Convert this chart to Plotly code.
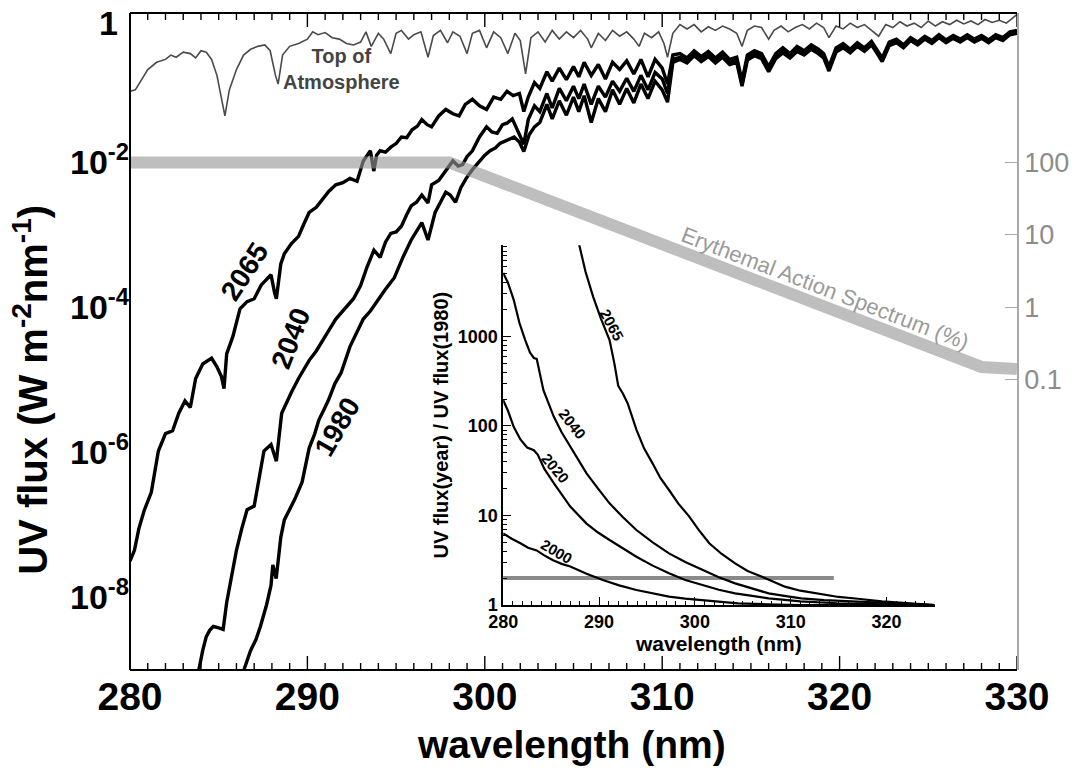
import numpy as np
import plotly.graph_objects as go

FONT = "Liberation Sans, Arial, Helvetica, sans-serif"

# ---------------- main panel data ----------------
# wavelengths (nm) and log10 of UV flux (W m-2 nm-1)
toa_wl = [280.0, 280.3, 280.5, 280.8, 281.0, 281.5, 282.0, 282.3, 282.6, 283.0, 283.4, 283.7, 284.0, 284.3,
          284.6, 284.9, 285.2, 285.35, 285.6, 286.0, 286.4, 286.8, 287.2, 287.6, 287.9, 288.2, 288.35, 288.6,
          289.0, 289.5, 290.0, 290.3, 290.6, 291.0, 291.4, 291.8, 292.2, 292.6, 293.0, 293.3, 293.6, 294.0,
          294.3, 294.7, 295.0, 295.3, 295.7, 296.0, 296.4, 296.8, 297.1, 297.5, 297.9, 298.2, 298.6, 299.0,
          299.3, 299.7, 300.1, 300.5, 300.9, 301.3, 301.7, 302.0, 302.3, 302.6, 303.0, 303.4, 303.8, 304.2,
          304.6, 305.0, 305.4, 305.8, 306.0, 306.4, 306.8, 307.2, 307.6, 308.0, 308.4, 308.7, 309.0, 309.4,
          309.8, 310.1, 310.3, 310.6, 311.0, 311.4, 311.8, 312.2, 312.6, 313.0, 313.4, 313.8, 314.2, 314.5,
          314.8, 315.2, 315.6, 316.0, 316.3, 316.7, 317.1, 317.5, 317.9, 318.3, 318.7, 319.1, 319.4, 319.8,
          320.2, 320.6, 321.0, 321.4, 321.8, 322.2, 322.6, 323.0, 323.4, 323.8, 324.2, 324.6, 325.0, 325.4,
          325.8, 326.2, 326.6, 327.0, 327.4, 327.8, 328.2, 328.6, 329.0, 329.4, 329.7, 330.0]
toa_log = [-1.02, -1.00, -0.92, -0.80, -0.72, -0.62, -0.58, -0.52, -0.55, -0.48, -0.50, -0.56, -0.46, -0.48,
           -0.58, -0.80, -1.20, -1.36, -1.00, -0.72, -0.52, -0.44, -0.40, -0.38, -0.46, -0.80, -0.92, -0.52,
           -0.40, -0.36, -0.30, -0.20, -0.24, -0.21, -0.28, -0.30, -0.36, -0.38, -0.34, -0.20, -0.40, -0.22,
           -0.30, -0.50, -0.22, -0.18, -0.30, -0.24, -0.20, -0.55, -0.25, -0.18, -0.35, -0.20, -0.26, -0.50,
           -0.22, -0.18, -0.42, -0.20, -0.28, -0.50, -0.22, -0.32, -0.78, -0.28, -0.20, -0.34, -0.18, -0.30,
           -0.20, -0.28, -0.18, -0.30, -0.42, -0.22, -0.32, -0.18, -0.26, -0.20, -0.30, -0.40, -0.22, -0.28,
           -0.20, -0.36, -0.55, -0.22, -0.10, -0.16, -0.10, -0.20, -0.13, -0.18, -0.12, -0.16, -0.22, -0.40,
           -0.18, -0.12, -0.14, -0.30, -0.18, -0.12, -0.20, -0.14, -0.10, -0.16, -0.08, -0.14, -0.28, -0.12,
           -0.16, -0.08, -0.14, -0.10, -0.18, -0.26, -0.10, -0.14, -0.06, -0.12, -0.08, -0.14, -0.05, -0.12,
           -0.06, -0.10, -0.04, -0.09, -0.05, -0.10, -0.03, -0.07, -0.04, -0.08, -0.02, 0.04]

merged_wl = [311.0, 311.4, 311.8, 312.2, 312.6, 313.0, 313.4, 313.8, 314.2, 314.5, 314.8, 315.2, 315.6, 316.0,
             316.4, 316.8, 317.2, 317.6, 318.0, 318.4, 318.8, 319.1, 319.4, 319.8, 320.2, 320.6, 321.0, 321.4,
             321.8, 322.2, 322.4, 322.8, 323.2, 323.6, 324.0, 324.4, 324.8, 325.2, 325.6, 326.0, 326.4, 326.8,
             327.2, 327.6, 328.0, 328.4, 328.8, 329.2, 329.6, 330.0]

y2065_wl = [280.0, 280.25, 280.5, 280.8, 281.2, 281.6, 282.0, 282.4, 282.75, 283.1, 283.4, 283.7, 284.1, 284.4,
            284.6, 284.9, 285.15, 285.3, 285.45, 285.8, 286.2, 286.6, 287.0, 287.4, 287.7, 287.95, 288.15, 288.25,
            288.5, 288.7, 289.1, 289.5, 289.8, 290.1, 290.5, 290.85, 291.2, 291.6, 292.0, 292.4, 292.8, 293.15,
            293.55, 293.74, 293.9, 294.1, 294.4, 294.7, 295.0, 295.3, 295.6, 295.9, 296.2, 296.45, 296.75, 297.0,
            297.4, 297.8, 298.2, 298.55, 298.9, 299.3, 299.7, 300.1, 300.5, 300.9, 301.25, 301.6, 301.95, 302.2,
            302.45, 302.8, 303.1, 303.5, 303.8, 304.2, 304.6, 305.0, 305.3, 305.6, 306.0, 306.4, 306.8, 307.2,
            307.6, 308.0, 308.4, 308.8, 309.2, 309.6, 310.0, 310.3, 310.6] + merged_wl
y2065_log = [-7.50, -7.35, -7.05, -6.80, -6.55, -5.98, -5.74, -5.70, -5.46, -5.29, -5.38, -4.98, -4.78, -4.73,
             -4.70, -4.82, -4.95, -5.12, -4.64, -4.40, -4.02, -3.92, -3.88, -3.69, -3.62, -3.55, -3.80, -3.88,
             -3.40, -3.26, -3.12, -3.02, -2.85, -2.69, -2.62, -2.50, -2.40, -2.31, -2.28, -2.22, -2.26, -1.98,
             -1.84, -2.12, -1.90, -1.84, -1.86, -1.79, -1.74, -1.65, -1.66, -1.55, -1.50, -1.41, -1.48, -1.51,
             -1.36, -1.27, -1.33, -1.36, -1.20, -1.13, -1.22, -1.27, -1.10, -1.13, -1.02, -1.08, -1.05, -1.30,
             -1.10, -0.90, -0.98, -0.75, -0.88, -0.70, -0.86, -0.68, -0.82, -0.62, -0.80, -0.65, -0.85, -0.62,
             -0.72, -0.60, -0.78, -0.58, -0.82, -0.58, -0.70, -0.92, -0.52,
             -0.50, -0.56, -0.46, -0.54, -0.47, -0.56, -0.48, -0.58, -0.55, -0.88, -0.52, -0.46, -0.50, -0.68,
             -0.50, -0.42, -0.50, -0.40, -0.46, -0.38, -0.44, -0.50, -0.68, -0.42, -0.36, -0.44, -0.35, -0.42,
             -0.33, -0.48, -0.56, -0.34, -0.30, -0.38, -0.28, -0.34, -0.26, -0.32, -0.24, -0.31, -0.25, -0.30,
             -0.24, -0.30, -0.25, -0.31, -0.24, -0.28, -0.20, -0.18]

y2040_wl = [283.6, 283.8, 284.1, 284.3, 284.5, 284.7, 285.0, 285.25, 285.45, 285.7, 286.0, 286.3, 286.6, 287.0,
            287.3, 287.55, 287.95, 288.15, 288.25, 288.55, 288.8, 289.1, 289.5, 289.8, 290.1, 290.5, 290.85, 291.2,
            291.6, 292.1, 292.6, 293.0, 293.35, 293.75, 294.1, 294.4, 294.7, 295.0, 295.3, 295.6, 295.85, 296.15,
            296.45, 296.8, 297.0, 297.4, 297.8, 298.2, 298.5, 298.75, 299.0, 299.3, 299.7, 300.1, 300.4, 300.7,
            301.0, 301.25, 301.55, 301.85, 302.2, 302.45, 302.8, 303.1, 303.5, 303.8, 304.2, 304.6, 305.0, 305.3,
            305.6, 306.0, 306.4, 306.8, 307.2, 307.6, 308.0, 308.4, 308.8, 309.2, 309.6, 310.0, 310.3,
            310.6] + merged_wl
y2040_log = [-9.40, -9.10, -8.73, -8.54, -8.45, -8.40, -8.42, -8.44, -8.07, -7.75, -7.35, -7.05, -6.79, -6.74,
             -6.35, -5.98, -5.89, -6.05, -6.12, -5.46, -5.32, -5.17, -4.98, -4.85, -4.73, -4.60, -4.45, -4.32,
             -4.16, -4.02, -3.88, -3.70, -3.45, -3.21, -3.31, -3.10, -2.98, -2.96, -2.88, -2.72, -2.60, -2.55,
             -2.45, -2.56, -2.31, -2.25, -2.12, -1.98, -2.05, -2.03, -1.92, -1.84, -1.65, -1.51, -1.58, -1.60,
             -1.48, -1.46, -1.40, -1.55, -1.75, -1.41, -1.22, -1.30, -1.05, -1.25, -0.98, -1.15, -0.95, -1.12,
             -0.92, -1.20, -0.95, -1.10, -0.88, -1.02, -0.84, -1.02, -0.80, -1.00, -0.76, -0.85, -1.05, -0.58,
             -0.55, -0.60, -0.50, -0.58, -0.51, -0.60, -0.52, -0.62, -0.59, -0.92, -0.56, -0.50, -0.54, -0.72,
             -0.54, -0.46, -0.53, -0.44, -0.49, -0.41, -0.47, -0.53, -0.71, -0.45, -0.39, -0.47, -0.38, -0.45,
             -0.36, -0.51, -0.59, -0.37, -0.33, -0.40, -0.30, -0.36, -0.28, -0.34, -0.26, -0.33, -0.27, -0.32,
             -0.26, -0.32, -0.27, -0.33, -0.26, -0.30, -0.22, -0.20]

y1980_wl = [286.2, 286.45, 286.8, 287.1, 287.35, 287.7, 287.95, 288.05, 288.24, 288.5, 288.7, 289.0, 289.3, 289.7,
            290.1, 290.4, 290.65, 290.95, 291.2, 291.55, 291.9, 292.4, 292.8, 293.15, 293.55, 293.9, 294.4, 294.9,
            295.4, 295.85, 296.15, 296.45, 296.8, 297.2, 297.5, 297.8, 298.05, 298.35, 298.65, 298.95, 299.3,
            299.7, 300.0, 300.3, 300.6, 300.85, 301.2, 301.65, 301.95, 302.2, 302.5, 302.8, 303.1, 303.5, 303.8,
            304.2, 304.6, 305.0, 305.3, 305.6, 306.0, 306.4, 306.8, 307.2, 307.6, 308.0, 308.4, 308.8, 309.2,
            309.6, 310.0, 310.3, 310.6] + merged_wl
y1980_log = [-9.30, -8.98, -8.73, -8.58, -8.40, -8.10, -7.83, -7.55, -7.74, -7.17, -6.93, -6.78, -6.64, -6.41,
             -5.94, -5.75, -5.55, -5.40, -5.27, -5.05, -4.90, -4.54, -4.34, -4.16, -4.05, -3.92, -3.75, -3.59,
             -3.30, -3.07, -2.95, -2.83, -3.07, -2.69, -2.55, -2.41, -2.45, -2.55, -2.35, -2.22, -2.10,
             -1.98, -1.90, -1.84, -1.80, -1.74, -1.70, -1.65, -1.72, -1.85, -1.62, -1.51, -1.45, -1.20, -1.40,
             -1.15, -1.35, -1.10, -1.30, -1.08, -1.45, -1.12, -1.30, -1.00, -1.20, -0.98, -1.18, -0.92, -1.12,
             -0.88, -1.00, -1.17, -0.62,
             -0.58, -0.63, -0.53, -0.61, -0.54, -0.63, -0.55, -0.65, -0.62, -0.95, -0.59, -0.53, -0.57, -0.75,
             -0.57, -0.49, -0.56, -0.47, -0.52, -0.44, -0.50, -0.56, -0.74, -0.48, -0.42, -0.49, -0.40, -0.47,
             -0.38, -0.53, -0.61, -0.39, -0.35, -0.42, -0.32, -0.38, -0.30, -0.36, -0.28, -0.35, -0.29, -0.34,
             -0.28, -0.34, -0.29, -0.35, -0.28, -0.32, -0.24, -0.22]

# erythemal action spectrum (%), right axis
ery_wl = [280.0, 298.0, 328.0, 330.0]
ery_pct = [100.0, 100.0, 0.151, 0.141]

# ---------------- inset data: ratio UV flux(year)/UV flux(1980), log10 ----------------
r2065_wl = [287.6, 287.9, 288.6, 289.4, 290.2, 291.1, 291.6, 292.0, 292.5, 293.0, 293.9, 294.7, 295.6, 296.4,
            297.3, 298.3, 299.4, 300.4, 301.5, 302.8, 304.2, 305.5, 307.0, 308.2, 309.4, 311.0, 312.8, 315.0,
            317.0, 318.0, 319.5, 321.0, 323.0, 325.0]
r2065_log = [4.20, 4.04, 3.72, 3.44, 3.20, 2.96, 2.70, 2.45, 2.36, 2.25, 1.96, 1.75, 1.58, 1.42,
             1.285, 1.13, 0.99, 0.84, 0.69, 0.57, 0.466, 0.38, 0.316, 0.26, 0.205, 0.16, 0.13, 0.09,
             0.07, 0.056, 0.04, 0.03, 0.015, 0.0]
r2040_wl = [280.0, 280.5, 281.1, 281.7, 282.3, 282.8, 283.2, 283.5, 284.2, 285.3, 286.1, 287.0, 288.7, 289.9,
            291.1, 292.5, 293.9, 295.6, 297.3, 299.0, 300.8, 302.5, 304.2, 306.0, 307.7, 309.5, 311.1, 313.5,
            316.4, 319.0, 322.0, 325.0]
r2040_log = [3.71, 3.60, 3.41, 3.15, 2.96, 2.82, 2.76, 2.75, 2.40, 2.10, 1.93, 1.77, 1.47, 1.30,
             1.136, 0.98, 0.838, 0.70, 0.577, 0.48, 0.39, 0.31, 0.242, 0.18, 0.13, 0.10, 0.075, 0.055,
             0.04, 0.025, 0.012, 0.0]
r2020_wl = [280.0, 280.5, 281.1, 281.8, 282.5, 283.2, 283.6, 284.3, 285.3, 286.2, 287.0, 288.7, 289.9, 291.1,
            292.5, 293.9, 295.6, 297.3, 299.0, 300.8, 302.5, 304.2, 306.0, 307.7, 311.0, 314.8, 320.0, 325.0]
r2020_log = [2.29, 2.17, 1.99, 1.85, 1.76, 1.73, 1.68, 1.52, 1.36, 1.22, 1.10, 0.91, 0.81, 0.726,
             0.63, 0.54, 0.44, 0.354, 0.28, 0.223, 0.17, 0.13, 0.10, 0.075, 0.04, 0.02, 0.008, 0.0]
r2000_wl = [280.0, 280.9, 281.8, 282.6, 283.5, 284.2, 285.2, 286.1, 287.0, 288.7, 290.4, 292.1, 293.9, 295.6,
            297.3, 299.0, 300.8, 302.6, 304.5, 307.5, 311.0, 325.0]
r2000_log = [0.80, 0.74, 0.69, 0.64, 0.61, 0.56, 0.50, 0.46, 0.43, 0.35, 0.28, 0.22, 0.168, 0.13,
             0.093, 0.072, 0.056, 0.038, 0.019, 0.008, 0.0, 0.0]
ratio_line_wl = [280.0, 314.5]
ratio_line = [2.0, 2.0]

# ---------------- ticks ----------------
x_ticks = [280, 290, 300, 310, 320, 330]
x_minor = [v for v in range(281, 330) if v % 10]
flux_tickvals = [1, 1e-2, 1e-4, 1e-6, 1e-8]
flux_ticktext = ["1", "10<sup>-2</sup>", "10<sup>-4</sup>", "10<sup>-6</sup>", "10<sup>-8</sup>"]
flux_minor = [1e-1, 1e-3, 1e-5, 1e-7, 1e-9]
ery_tickvals = [100, 10, 1, 0.1]
ery_ticktext = ["100", "10", "1", "0.1"]
inset_x_ticks = [280, 290, 300, 310, 320]
inset_y_ticks = [1, 10, 100, 1000]
inset_y_minor = [m * 10 ** d for d in range(0, 4) for m in range(2, 10)] + [10000]


def pw(v):
    return list(10 ** np.array(v, dtype=float))


fig = go.Figure()

# top of atmosphere and surface spectra (base axes x / y)
fig.add_trace(go.Scatter(x=toa_wl, y=pw(toa_log), mode="lines", xaxis="x", yaxis="y",
                         line=dict(color="#4a4a4a", width=1.6)))
for wl, lg in [(y1980_wl, y1980_log), (y2040_wl, y2040_log), (y2065_wl, y2065_log)]:
    fig.add_trace(go.Scatter(x=wl, y=pw(lg), mode="lines", xaxis="x", yaxis="y",
                             line=dict(color="black", width=3.4)))
# erythemal band on right axis
fig.add_trace(go.Scatter(x=ery_wl, y=ery_pct, mode="lines", xaxis="x", yaxis="y2",
                         line=dict(color="rgba(150,150,150,0.62)", width=12), hoverinfo="skip"))

# inset
fig.add_trace(go.Scatter(x=ratio_line_wl, y=ratio_line, mode="lines", xaxis="x2", yaxis="y3",
                         line=dict(color="#8a8a8a", width=4)))
for wl, lg in [(r2000_wl, r2000_log), (r2020_wl, r2020_log), (r2040_wl, r2040_log), (r2065_wl, r2065_log)]:
    fig.add_trace(go.Scatter(x=wl, y=pw(lg), mode="lines", xaxis="x2", yaxis="y3",
                             line=dict(color="black", width=2.2)))

bold = dict(family=FONT, color="black", weight="bold")

fig.update_layout(
    width=1081, height=770,
    margin=dict(l=130, r=58, t=13, b=100),
    paper_bgcolor="white", plot_bgcolor="rgba(0,0,0,0)",
    showlegend=False,
    xaxis=dict(domain=[0, 1], range=[280, 330], anchor="y", showline=False, ticks="",
               tickvals=x_ticks, tickfont=dict(size=39, **bold), showgrid=False, zeroline=False),
    yaxis=dict(type="log", range=[-9, 0.06], side="left", anchor="x", showline=False, ticks="",
               tickvals=flux_tickvals[1:], ticktext=flux_ticktext[1:], tickfont=dict(size=34, **bold),
               showgrid=False, zeroline=False),
    yaxis2=dict(type="log", range=[-5, 4.06], overlaying="y", side="right", anchor="x", showline=True,
                linecolor="#a8a8a8", linewidth=1.5, ticks="inside", ticklen=12, tickcolor="#a8a8a8",
                tickvals=ery_tickvals, ticktext=ery_ticktext,
                tickfont=dict(family=FONT, size=27, color="#8c8c8c"), showgrid=False, zeroline=False),
    xaxis2=dict(domain=[0.4207, 0.907], range=[280, 325], anchor="y3", showline=True, linecolor="black",
                linewidth=1.5, ticks="inside", ticklen=8, tickwidth=1.2, tickcolor="black",
                tickvals=inset_x_ticks, tickfont=dict(size=18, **bold), showgrid=False, zeroline=False,
                minor=dict(dtick=1, ticks="inside", ticklen=4, tickwidth=1, tickcolor="black"),
                title=dict(text="wavelength (nm)", font=dict(size=21, **bold), standoff=2)),
    yaxis3=dict(domain=[0.0989, 0.6466], type="log", range=[0, 4.02], anchor="x2", showline=True,
                linecolor="black", linewidth=1.5, ticks="inside", ticklen=8, tickwidth=1.2, tickcolor="black",
                tickvals=inset_y_ticks, tickfont=dict(size=18, **bold), showgrid=False, zeroline=False,
                minor=dict(tickvals=inset_y_minor, ticks="inside", ticklen=4, tickwidth=1, tickcolor="black"),
                title=dict(text="UV flux(year) / UV flux(1980)", font=dict(size=20, **bold), standoff=4)),
)

# main frame and tick marks (axis decoration)
shapes = []
for (x0, y0, x1, y1) in [(0, 0, 1, 0), (0, 1, 1, 1), (0, 0, 0, 1)]:
    shapes.append(dict(type="line", xref="paper", yref="paper", x0=x0, y0=y0, x1=x1, y1=y1,
                       line=dict(color="black", width=2)))
for v in x_ticks + x_minor:
    ln = 14 if v in x_ticks else 7
    shapes.append(dict(type="line", xref="x", yref="paper", ysizemode="pixel", yanchor=0,
                       x0=v, x1=v, y0=0, y1=ln, line=dict(color="black", width=1.4)))
    shapes.append(dict(type="line", xref="x", yref="paper", ysizemode="pixel", yanchor=1,
                       x0=v, x1=v, y0=0, y1=-ln, line=dict(color="black", width=1.4)))
for v in flux_tickvals + flux_minor:
    ln = 15 if v in flux_tickvals else 8
    lv = float(np.log10(v))
    shapes.append(dict(type="line", xref="paper", yref="y", xsizemode="pixel", xanchor=0,
                       x0=0, x1=ln, y0=lv, y1=lv, line=dict(color="black", width=1.6)))
fig.update_layout(shapes=shapes)

C = dict(xanchor="center", yanchor="middle", showarrow=False)
ann = []
# top tick label "1" of the flux axis
ann.append(dict(xref="paper", yref="y", x=-0.011, y=-0.08, text=flux_ticktext[0], xanchor="right",
                yanchor="middle", showarrow=False, font=dict(size=34, **bold)))
# axis titles
ann.append(dict(xref="paper", yref="paper", x=-0.112, y=0.426, text="UV flux (W m<sup>-2</sup>nm<sup>-1</sup>)",
                textangle=-90, font=dict(size=40, **bold), **C))
ann.append(dict(xref="paper", yref="paper", x=0.498, y=-0.114, text="wavelength (nm)",
                font=dict(size=39, **bold), **C))
# main curve labels (y in log10 for log axes)
for txt, x, y, ang in [("2065", 286.45, -3.50, -57), ("2040", 289.07, -4.43, -69), ("1980", 291.65, -5.65, -60)]:
    ann.append(dict(xref="x", yref="y", x=x, y=y, text=txt, textangle=ang, font=dict(size=28, **bold), **C))
ann.append(dict(xref="x", yref="y", x=291.9, y=-0.715, text="Top of<br>Atmosphere",
                font=dict(family=FONT, size=20, color="#444444", weight="bold"), **C))
ann.append(dict(xref="x", yref="y2", x=319.19, y=0.255, text="Erythemal Action Spectrum (%)", textangle=21,
                font=dict(family=FONT, size=22, color="#9a9a9a"), **C))
# inset labels
for txt, x, y, ang in [("2065", 291.3, 3.13, 62), ("2040", 287.2, 2.03, 52), ("2020", 285.5, 1.53, 50),
                       ("2000", 285.6, 0.60, 30)]:
    ann.append(dict(xref="x2", yref="y3", x=x, y=y, text=txt, textangle=ang, font=dict(size=15, **bold), **C))
# arrow continuing the 2065 inset curve
ann.append(dict(xref="x2", yref="y3", x=287.34, y=4.235, text="", showarrow=True, arrowhead=2,
                arrowsize=1.3, arrowwidth=2, arrowcolor="black", ax=5, ay=20))
fig.update_layout(annotations=ann)

fig.write_html("out.html", config={"displayModeBar": False},
               post_script="document.body.style.margin='0';document.body.style.padding='0';")
